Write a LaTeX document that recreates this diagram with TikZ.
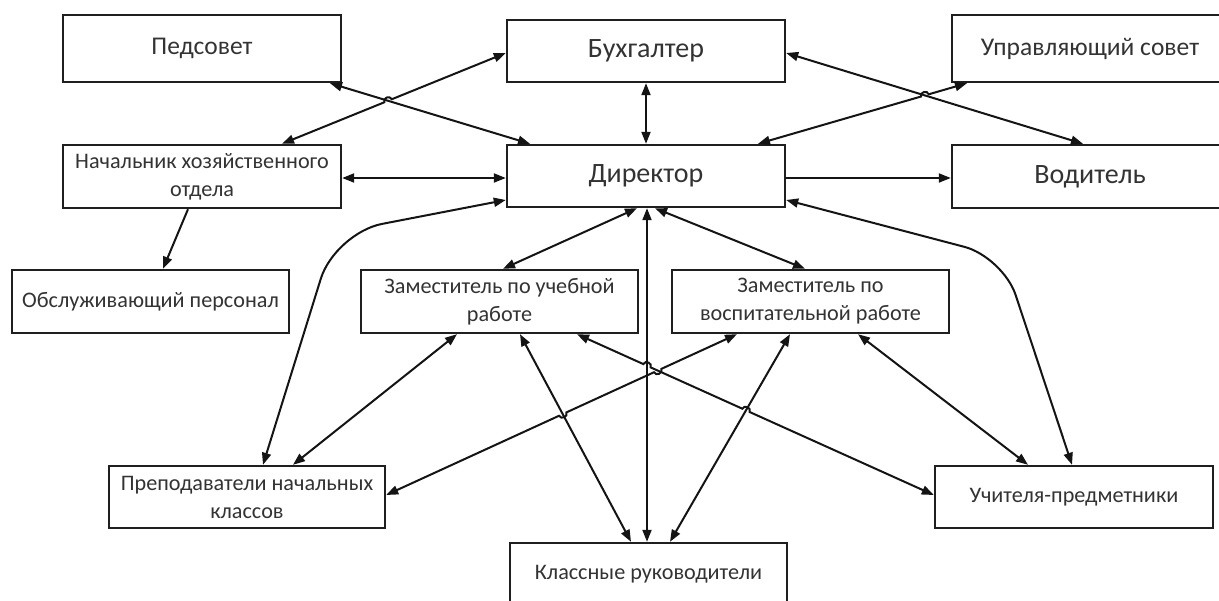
\documentclass[tikz,border=0pt]{standalone}
\usepackage{fontspec}
\setmainfont{Carlito}
\usetikzlibrary{arrows.meta,calc,intersections}

\begin{document}
\begin{tikzpicture}[x=1pt,y=-1pt,
  box/.style={draw=black!88, line width=2.4pt, fill=white, inner sep=0pt,
    align=center, text=black!80},
  big/.style={font=\fontsize{28}{32}\selectfont},
  mid/.style={font=\fontsize{25.5}{30}\selectfont},
  small/.style={font=\fontsize{22.2}{28}\selectfont},
  conn/.style={draw=black!92, line width=2pt, >={Triangle[length=12pt,width=9pt]}},
  hop/.style={bend left=90, looseness=1.5}
]
\useasboundingbox (0,0) rectangle (1219,601);
\clip (0,0) rectangle (1219,601);

% --- boxes ---
\node[box, big, minimum width=278pt, minimum height=62pt] (buh) at (646,51) {Бухгалтер};
\node[box, mid, minimum width=278pt, minimum height=67pt] (ped) at (202,48.5) {Педсовет};
\node[box, mid, minimum width=276pt, minimum height=67pt] (upr) at (1090,48.5) {Управляющий совет};
\node[box, small, minimum width=278pt, minimum height=63pt] (nach) at (202,176.5) {Начальник хозяйственного\\отдела};
\node[box, big, minimum width=278pt, minimum height=62pt] (dir) at (646,176) {Директор};
\node[box, big, minimum width=276pt, minimum height=63pt] (vod) at (1090,176.5) {Водитель};
\node[box, small, minimum width=277pt, minimum height=63pt] (obs) at (150.5,301.5) {Обслуживающий персонал};
\node[box, small, minimum width=277pt, minimum height=63pt] (zu) at (499.5,301.5) {Заместитель по учебной\\работе};
\node[box, small, minimum width=277pt, minimum height=63pt] (zv) at (810.5,301.5) {Заместитель по\\воспитательной работе};
\node[box, small, minimum width=276pt, minimum height=62pt] (prep) at (247,497) {Преподаватели начальных\\классов};
\node[box, small, minimum width=278pt, minimum height=62pt] (uch) at (1074,497) {Учителя-предметники};
\node[box, small, minimum width=277pt, minimum height=62pt] (kl) at (648.5,574) {Классные руководители};

% --- connector end points on the boxes ---
\coordinate (pedS)  at ([xshift=128pt]ped.south);
\coordinate (dirN1) at ([xshift=-116pt]dir.north);
\coordinate (nachN) at ([xshift=80pt]nach.north);
\coordinate (buhW)  at ([yshift=-2pt]buh.west);
\coordinate (buhE)  at ([yshift=-2pt]buh.east);
\coordinate (vodN)  at ([xshift=-7pt]vod.north);
\coordinate (dirN2) at ([xshift=112pt]dir.north);
\coordinate (uprS)  at ([xshift=-123pt]upr.south);
\coordinate (nachE) at ([yshift=-1.5pt]nach.east);
\coordinate (dirW)  at ([yshift=-2pt]dir.west);
\coordinate (dirE)  at ([yshift=-2pt]dir.east);
\coordinate (vodW)  at ([yshift=-1.5pt]vod.west);
\coordinate (nachS) at ([xshift=-14pt]nach.south);
\coordinate (obsN)  at ([xshift=12.5pt]obs.north);
\coordinate (dirWL) at ([yshift=-24pt]dir.west);
\coordinate (dirEL) at ([yshift=-24pt]dir.east);
\coordinate (prepN1) at ([xshift=16pt]prep.north);
\coordinate (prepN2) at ([xshift=46pt]prep.north);
\coordinate (prepE) at ([yshift=2pt]prep.east);
\coordinate (uchN1) at ([xshift=-46pt]uch.north);
\coordinate (uchN2) at ([xshift=-2pt]uch.north);
\coordinate (uchW)  at ([yshift=2pt]uch.west);
\coordinate (dirS1) at ([xshift=-9pt]dir.south);
\coordinate (dirS2) at ([xshift=1pt]dir.south);
\coordinate (dirS3) at ([xshift=9pt]dir.south);
\coordinate (zuN)   at ([xshift=3.5pt]zu.north);
\coordinate (zvN)   at ([xshift=-5.5pt]zv.north);
\coordinate (klN1)  at ([xshift=-17.5pt]kl.north);
\coordinate (klN2)  at ([xshift=-1.5pt]kl.north);
\coordinate (klN3)  at ([xshift=21.5pt]kl.north);
\coordinate (zuS1)  at ([xshift=-42.5pt]zu.south);
\coordinate (zuS2)  at ([xshift=20.5pt]zu.south);
\coordinate (zuS3)  at ([xshift=77.5pt]zu.south);
\coordinate (zvS1)  at ([xshift=-73.5pt]zv.south);
\coordinate (zvS2)  at ([xshift=-20.5pt]zv.south);
\coordinate (zvS3)  at ([xshift=47.5pt]zv.south);
% bends of the two curved links
\coordinate (bendL) at (335,233);
\coordinate (bendR) at (1003,257);

% --- crossing points where a line hops over another ---
\path[name path=pPed] (pedS) -- (dirN1);
\path[name path=pNach] (nachN) -- (buhW);
\path[name path=pBV] (buhE) -- (vodN);
\path[name path=pDU] (dirN2) -- (uprS);
\path[name path=pVert] (dirS2) -- (klN2);
\path[name path=pZuKl] (zuS2) -- (klN1);
\path[name path=pZuUch] (zuS3) -- (uchW);
\path[name path=pZvPrep] (zvS1) -- (prepE);
\path[name path=pZvKl] (zvS2) -- (klN3);
\path[name intersections={of=pNach and pPed, by=h1}];
\path[name intersections={of=pDU and pBV, by=h2}];
\path[name intersections={of=pZuUch and pVert, by=h3}];
\path[name intersections={of=pZuUch and pZvKl, by=h4}];
\path[name intersections={of=pZvPrep and pZuUch, by=h5}];
\path[name intersections={of=pZvPrep and pZuKl, by=h6}];

% --- top row links ---
\draw[conn, <->] (pedS) -- (dirN1);
\draw[conn, <->] (nachN) -- ($(h1)!4pt!(nachN)$) to[hop] ($(h1)!4pt!(buhW)$) -- (buhW);
\draw[conn, <->] (buh.south) -- (dir.north);
\draw[conn, <->] (buhE) -- (vodN);
\draw[conn, <->] (dirN2) -- ($(h2)!4pt!(dirN2)$) to[hop] ($(h2)!4pt!(uprS)$) -- (uprS);
\draw[conn, <->] (nachE) -- (dirW);
\draw[conn, ->] (dirE) -- (vodW);
\draw[conn, ->] (nachS) -- (obsN);

% --- curved links from the director ---
\draw[conn, <->, rounded corners=48pt] (dirWL) -- (bendL) -- (prepN1);
\draw[conn, <->, rounded corners=40pt] (dirEL) -- (bendR) -- (uchN2);

% --- director to deputies and class teachers ---
\draw[conn, <->] (dirS1) -- (zuN);
\draw[conn, <->] (dirS3) -- (zvN);
\draw[conn, <->] (dirS2) -- (klN2);

% --- deputies to teaching staff ---
\draw[conn, <->] (zuS1) -- (prepN2);
\draw[conn, <->] (zuS2) -- (klN1);
\draw[conn, <->] (zuS3) -- ($(h3)!4pt!(zuS3)$) to[hop] ($(h3)!4pt!(uchW)$)
  -- ($(h4)!4pt!(zuS3)$) to[hop] ($(h4)!4pt!(uchW)$) -- (uchW);
\draw[conn, <->] (zvS1) -- ($(h5)!4pt!(zvS1)$) to[hop] ($(h5)!4pt!(prepE)$)
  -- ($(h6)!4pt!(zvS1)$) to[hop] ($(h6)!4pt!(prepE)$) -- (prepE);
\draw[conn, <->] (zvS2) -- (klN3);
\draw[conn, <->] (zvS3) -- (uchN1);
\end{tikzpicture}
\end{document}
